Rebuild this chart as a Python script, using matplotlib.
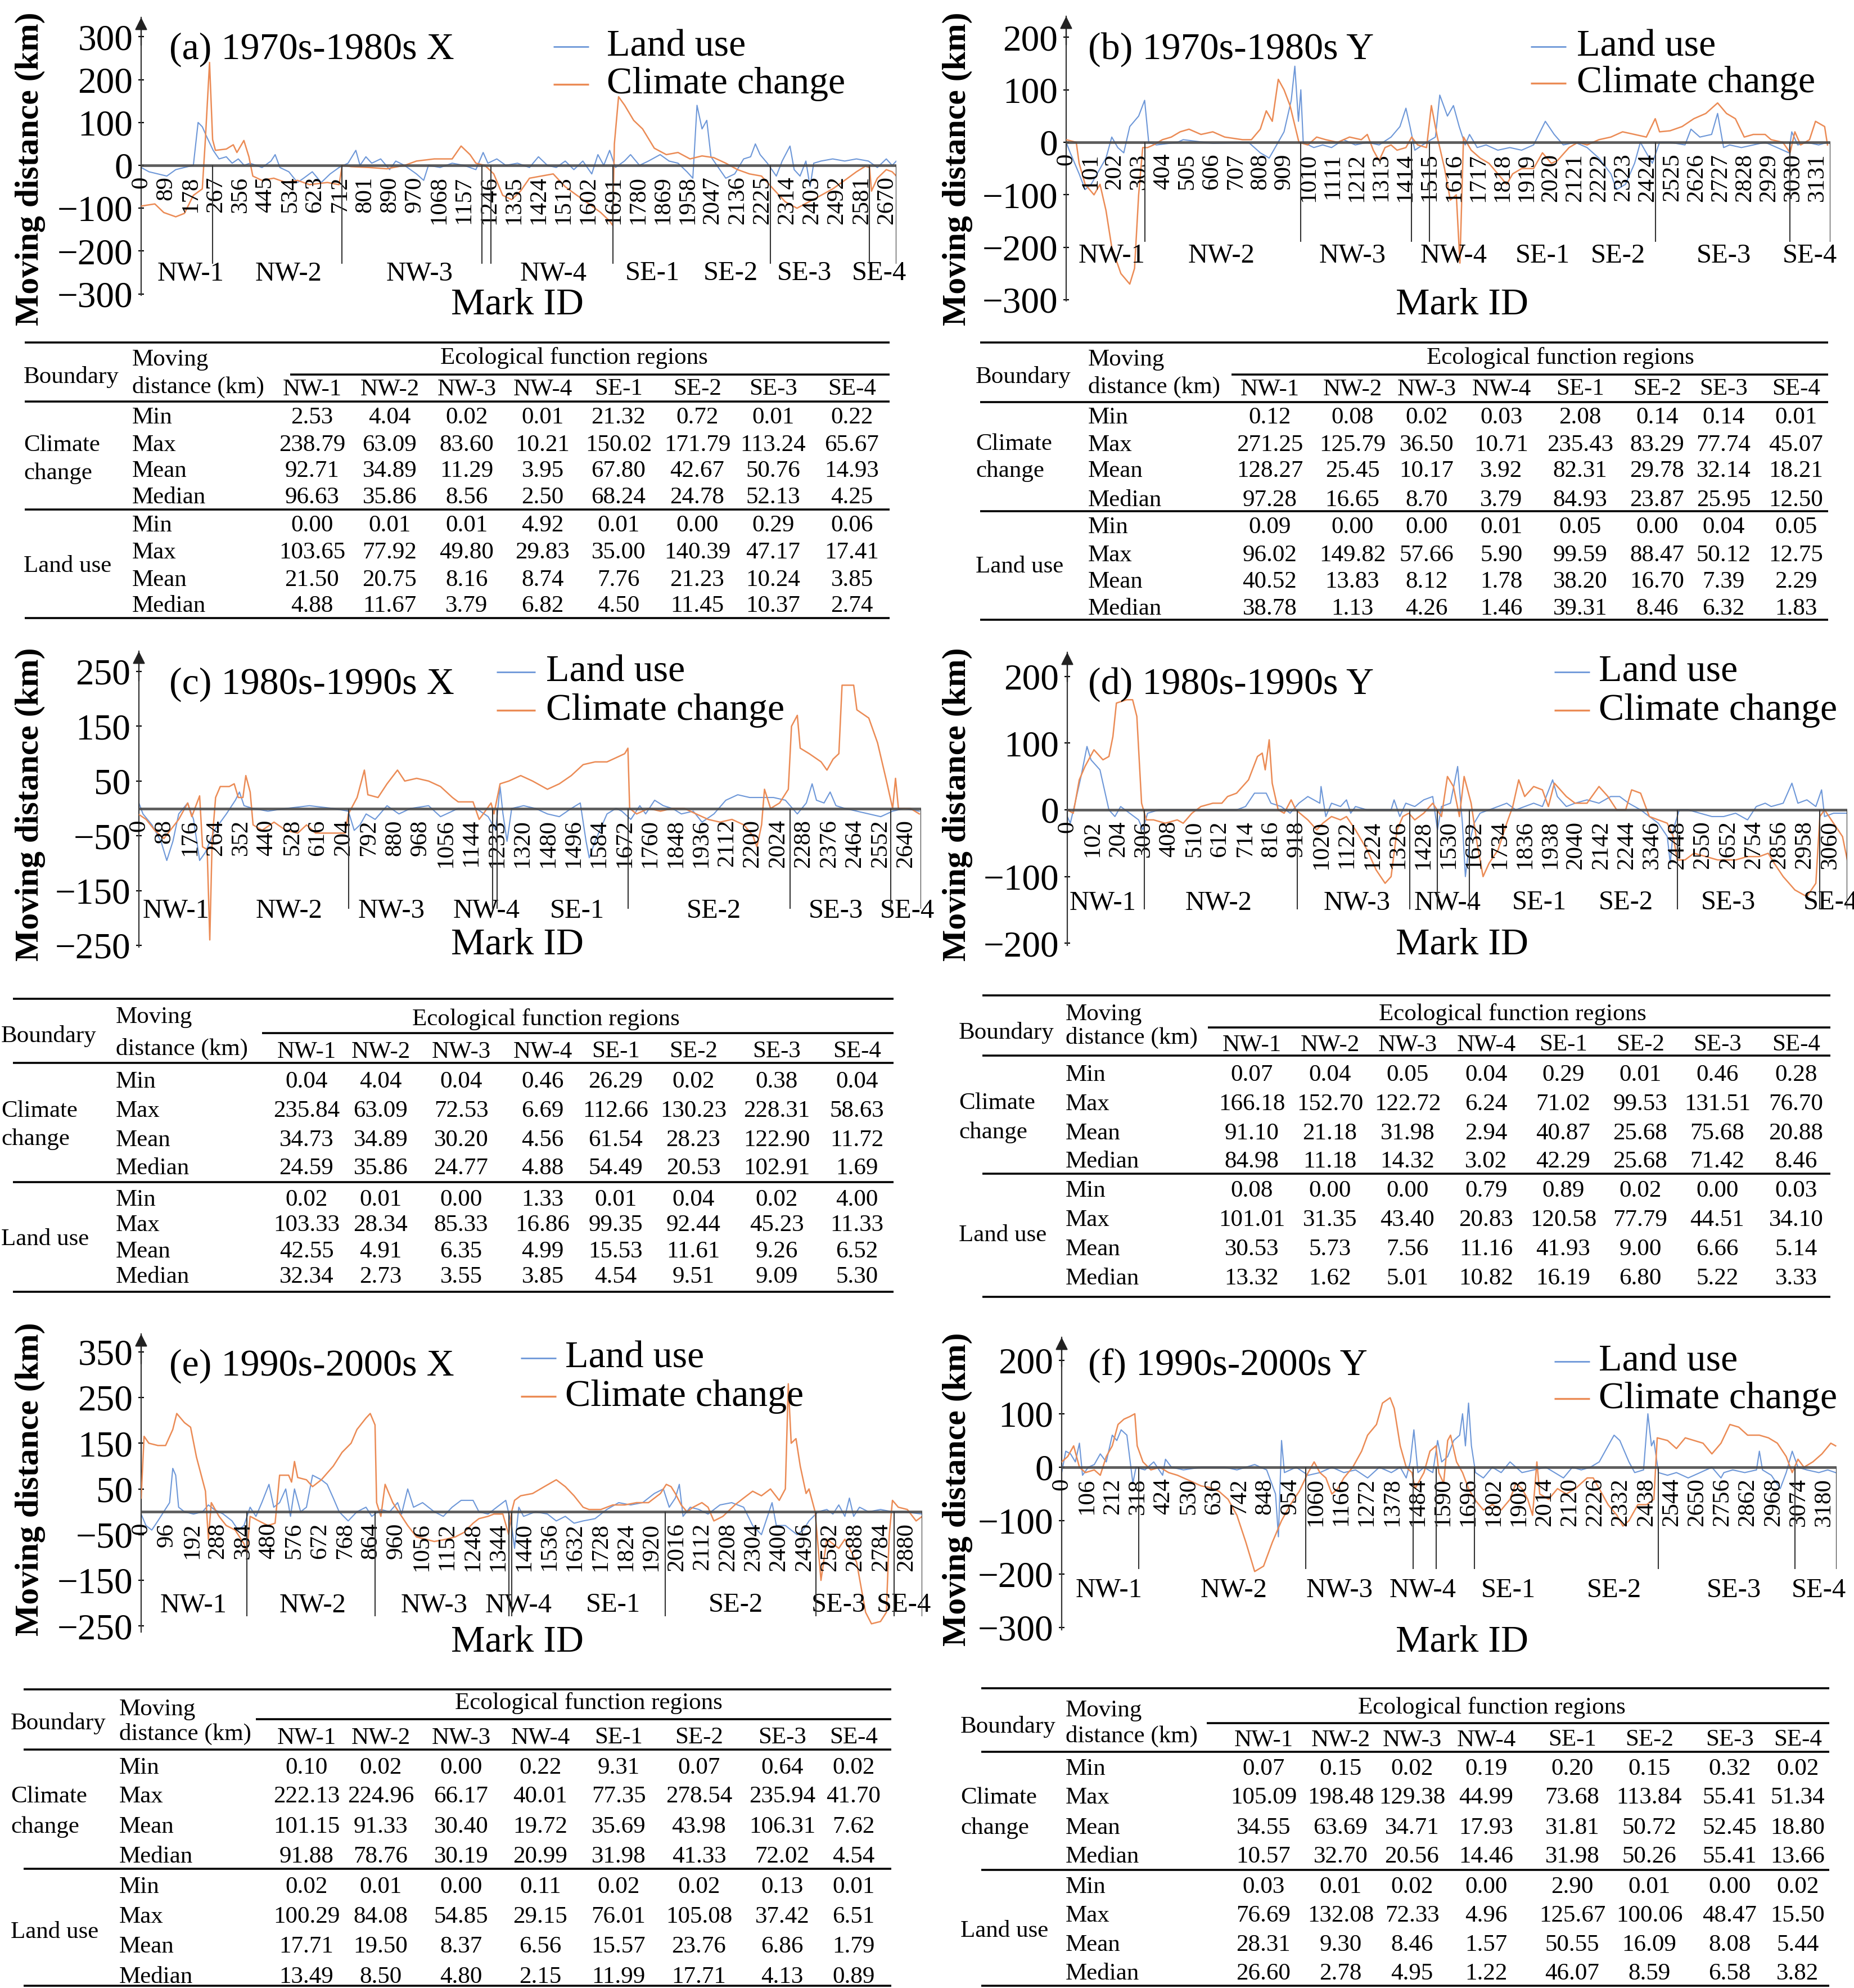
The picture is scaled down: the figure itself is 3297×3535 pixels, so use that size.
import numpy as np
import matplotlib
matplotlib.use('Agg')
import matplotlib.pyplot as plt
from matplotlib.lines import Line2D
from matplotlib.transforms import offset_copy

# ── DATA ──────────────────────────────────────────────────────────────────────
REGIONS = ['NW-1', 'NW-2', 'NW-3', 'NW-4', 'SE-1', 'SE-2', 'SE-3', 'SE-4']
STATS = ['Min', 'Max', 'Mean', 'Median']

# (a) 1970s-1980s X
A_TICKS = ['0', '89', '178', '267', '356', '445', '534', '623', '712', '801', '890', '970', '1068',
           '1157', '1246', '1335', '1424', '1513', '1602', '1691', '1780', '1869', '1958', '2047',
           '2136', '2225', '2314', '2403', '2492', '2581', '2670']
A_CLIM_X = [0, 49, 81, 124, 155, 187, 219, 230, 245, 256, 266, 305, 330, 343, 368, 386, 400, 432, 475, 518,
            560, 603, 667, 709, 720, 752, 816, 880, 944, 986, 1050, 1114, 1146, 1178, 1199, 1231, 1263, 1295,
            1327, 1359, 1391, 1433, 1476, 1519, 1561, 1604, 1646, 1678, 1689, 1695, 1710, 1732, 1764, 1796,
            1838, 1881, 1923, 1966, 2009, 2051, 2094, 2136, 2179, 2222, 2264, 2307, 2349, 2392, 2435, 2477,
            2520, 2562, 2594, 2609, 2616, 2637, 2669, 2690, 2705]
A_CLIM_Y = [-95, -90, -110, -120, -112, -70, -55, 60, 240, 60, 35, 38, 48, 30, 58, 20, -25, -35, -30, -40,
            -35, -45, -40, -45, 0, -3, -5, -8, 0, 10, 15, 15, 45, 25, 5, 0, -20, -70, -80, -60,
            -30, -25, -20, -50, -70, -90, -110, -130, -140, 50, 160, 140, 105, 85, 40, 25, 30, 15, 22, 18,
            5, -10, -20, -25, -55, -85, -100, -85, -70, -55, -35, -15, -2, -5, -60, -30, -10, -15, -25]
A_LAND_X = [0, 28, 60, 92, 124, 155, 187, 204, 219, 236, 258, 279, 305, 326, 348, 369, 390, 433, 465, 480,
            497, 529, 560, 582, 613, 645, 677, 709, 741, 769, 784, 805, 826, 858, 890, 912, 943, 986, 1012,
            1029, 1071, 1114, 1156, 1199, 1225, 1242, 1274, 1306, 1348, 1391, 1423, 1455, 1487, 1519, 1550,
            1582, 1614, 1636, 1657, 1678, 1699, 1731, 1753, 1785, 1817, 1859, 1891, 1923, 1955, 1976, 1991,
            2009, 2026, 2041, 2062, 2094, 2126, 2158, 2183, 2200, 2217, 2243, 2275, 2296, 2324, 2339, 2360,
            2381, 2396, 2409, 2435, 2477, 2520, 2562, 2605, 2637, 2669, 2690, 2705]
A_LAND_Y = [-5, -15, -20, -25, -10, -5, 0, 100, 90, 65, 35, 15, 20, 5, 15, 0, 5, -5, 10, 25,
            -5, -15, -40, -30, -15, -40, -20, -5, 5, 35, 0, 20, 5, 15, -10, 10, 0, -20, -35, 0,
            -5, 5, 0, -10, 30, 5, 15, 0, 5, -5, 20, 0, -5, 10, -10, 10, -20, 25, 0, 35,
            -5, 10, 25, 0, 10, 25, 10, 5, -15, -30, 140, 85, 105, 20, 0, -30, -20, 15, 20, 50,
            25, 5, -25, 10, 45, -10, -25, 10, -50, 5, 10, 15, 10, 15, 10, -5, 15, 0, 10]
A_BOUNDS = [256, 720, 1220, 1252, 1689, 2253, 2609, 2705]
A_REG_X = [177, 528, 997, 1476, 1832, 2111, 2375, 2643]
A_TAB_CLIM = [[2.53, 4.04, 0.02, 0.01, 21.32, 0.72, 0.01, 0.22],
              [238.79, 63.09, 83.60, 10.21, 150.02, 171.79, 113.24, 65.67],
              [92.71, 34.89, 11.29, 3.95, 67.80, 42.67, 50.76, 14.93],
              [96.63, 35.86, 8.56, 2.50, 68.24, 24.78, 52.13, 4.25]]
A_TAB_LAND = [[0.00, 0.01, 0.01, 4.92, 0.01, 0.00, 0.29, 0.06],
              [103.65, 77.92, 49.80, 29.83, 35.00, 140.39, 47.17, 17.41],
              [21.50, 20.75, 8.16, 8.74, 7.76, 21.23, 10.24, 3.85],
              [4.88, 11.67, 3.79, 6.82, 4.50, 11.45, 10.37, 2.74]]

# (b) 1970s-1980s Y
B_TICKS = ['0', '101', '202', '303', '404', '505', '606', '707', '808', '909', '1010', '1111', '1212',
           '1313', '1414', '1515', '1616', '1717', '1818', '1919', '2020', '2121', '2222', '2323', '2424',
           '2525', '2626', '2727', '2828', '2929', '3030', '3131']
B_CLIM_X = [0, 42, 54, 79, 116, 141, 166, 190, 228, 265, 285, 302, 319, 339, 364, 401, 438, 475, 512, 562,
            611, 661, 735, 772, 809, 834, 859, 884, 908, 933, 970, 1007, 1044, 1082, 1131, 1181, 1230, 1255,
            1280, 1304, 1329, 1354, 1379, 1416, 1440, 1465, 1502, 1522, 1547, 1577, 1601, 1626, 1641, 1656,
            1688, 1725, 1762, 1799, 1836, 1861, 1898, 1948, 1985, 2022, 2047, 2096, 2133, 2171, 2220, 2270,
            2319, 2369, 2418, 2455, 2473, 2517, 2567, 2616, 2666, 2715, 2752, 2789, 2826, 2864, 2913, 2938,
            2987, 3017, 3037, 3061, 3098, 3123, 3161, 3173]
B_CLIM_Y = [5, 0, -40, -80, -100, -80, -130, -200, -250, -270, -240, -100, -10, -10, -5, 5, 10, 20, 25, 15,
            20, 10, 5, 5, 25, 60, 40, 120, 100, 70, 0, -5, 10, 5, 0, 10, 5, 15, -15, -35,
            -10, -5, -15, -10, 10, -5, -10, 70, 10, -50, -110, -100, -230, 10, -15, -30, -40, -60, -80, -60,
            -50, -50, -20, -40, -35, -10, 0, -5, 5, 10, 20, 15, 10, 45, 20, 22, 30, 45, 55, 75,
            55, 45, 10, 15, 15, 5, 0, -20, 20, -5, 5, 40, 30, -5]
B_LAND_X = [0, 17, 54, 79, 104, 129, 166, 190, 215, 240, 265, 302, 327, 344, 376, 463, 488, 611, 760, 809,
            846, 871, 908, 938, 953, 968, 978, 988, 1032, 1069, 1106, 1156, 1205, 1255, 1304, 1354, 1391,
            1416, 1433, 1453, 1502, 1539, 1557, 1589, 1614, 1638, 1663, 1681, 1713, 1750, 1799, 1849, 1898,
            1948, 1997, 2034, 2072, 2121, 2171, 2220, 2270, 2294, 2331, 2369, 2393, 2418, 2443, 2473, 2517,
            2579, 2604, 2641, 2690, 2715, 2740, 2765, 2814, 2864, 2913, 2963, 3012, 3024, 3049, 3086, 3136,
            3173]
B_LAND_Y = [0, -20, -60, -90, -80, -60, -30, 10, -10, -20, 30, 50, 80, 0, -5, 0, 5, -2, 0, -20,
            -30, -10, 20, 80, 145, 40, 100, 0, -10, -5, -10, 5, -5, 0, -5, 10, 30, 65, 30, -15,
            0, 10, 90, 50, 70, 30, -5, 15, -10, -5, -15, -10, -15, -5, 40, 15, -5, 0, -10, -30,
            -60, -90, -80, -40, 0, -20, -40, 0, 0, -5, 25, 10, 15, 55, -10, -5, -10, -5, 0, -10,
            -20, 20, -5, 0, -5, 0]
B_BOUNDS = [327, 978, 1440, 1515, 2455, 3017, 3185]
B_REG_X = [190, 648, 1193, 1614, 1985, 2299, 2740, 3099]
B_TAB_CLIM = [[0.12, 0.08, 0.02, 0.03, 2.08, 0.14, 0.14, 0.01],
              [271.25, 125.79, 36.50, 10.71, 235.43, 83.29, 77.74, 45.07],
              [128.27, 25.45, 10.17, 3.92, 82.31, 29.78, 32.14, 18.21],
              [97.28, 16.65, 8.70, 3.79, 84.93, 23.87, 25.95, 12.50]]
B_TAB_LAND = [[0.09, 0.00, 0.00, 0.01, 0.05, 0.00, 0.04, 0.05],
              [96.02, 149.82, 57.66, 5.90, 99.59, 88.47, 50.12, 12.75],
              [40.52, 13.83, 8.12, 1.78, 38.20, 16.70, 7.39, 2.29],
              [38.78, 1.13, 4.26, 1.46, 39.31, 8.46, 6.32, 1.83]]

# (c) 1980s-1990s X
C_TICKS = ['0', '88', '176', '264', '352', '440', '528', '616', '204', '792', '880', '968', '1056', '1144',
           '1233', '1320', '1480', '1496', '1584', '1672', '1760', '1848', '1936', '2112', '2200', '2024',
           '2288', '2376', '2464', '2552', '2640']
C_CLIM_X = [0, 25, 55, 86, 137, 168, 182, 209, 219, 235, 244, 252, 264, 280, 311, 328, 342, 358, 368, 383,
            393, 424, 465, 506, 547, 577, 608, 669, 710, 721, 751, 776, 788, 823, 854, 890, 915, 956, 997,
            1038, 1079, 1099, 1150, 1171, 1185, 1212, 1222, 1243, 1273, 1314, 1355, 1406, 1447, 1488, 1529,
            1570, 1611, 1652, 1672, 1683, 1689, 1713, 1754, 1795, 1836, 1877, 1918, 1959, 2000, 2041, 2082,
            2113, 2127, 2143, 2153, 2174, 2205, 2235, 2246, 2266, 2276, 2307, 2348, 2368, 2389, 2409, 2420,
            2460, 2471, 2512, 2542, 2573, 2594, 2604, 2614, 2655, 2686]
C_CLIM_Y = [-11, -20, -40, -55, -20, 10, -15, 23, -70, -75, -240, -60, 20, 40, 40, 45, 20, 20, 60, 30,
            -30, -40, -25, -40, -45, -30, -45, -45, -45, -10, 20, 70, 25, 20, 45, 70, 50, 55, 50, 40,
            20, 12, 12, -20, -10, 10, -10, 45, 50, 60, 50, 35, 45, 60, 80, 85, 85, 95, 100, 110,
            0, -10, 0, -5, 0, 0, -10, -20, -25, -20, -30, -50, -70, -30, 35, 0, 10, 35, 150, 170,
            110, 100, 85, 70, 90, 100, 225, 225, 180, 165, 120, 50, 0, 55, 0, 0, -10]
C_LAND_X = [0, 14, 45, 76, 96, 117, 137, 168, 188, 209, 229, 260, 301, 332, 346, 362, 393, 444, 506, 587,
            669, 721, 741, 761, 782, 813, 854, 895, 935, 997, 1038, 1099, 1161, 1202, 1228, 1243, 1253, 1267,
            1283, 1324, 1365, 1406, 1447, 1488, 1519, 1539, 1550, 1570, 1611, 1642, 1662, 1693, 1724, 1744,
            1775, 1805, 1836, 1867, 1908, 1938, 1979, 2020, 2061, 2102, 2143, 2184, 2225, 2266, 2297, 2317,
            2332, 2358, 2379, 2399, 2430, 2471, 2512, 2553, 2594, 2634, 2686]
C_LAND_Y = [10, -10, -30, -60, -95, -60, -10, 10, -20, -95, -80, -40, -10, 15, 30, 5, 0, -5, 0, 5,
            0, -5, -40, -30, -10, -20, 5, -10, 0, 5, -15, 0, 0, -15, -40, 40, -10, -60, 0, 5,
            0, -10, -15, 0, 10, -60, -90, -60, -10, 0, -5, -20, 5, -10, 15, 5, 0, -10, -5, -25,
            -10, 15, 25, 20, 20, 20, 15, -10, 10, 45, 15, 10, 30, 5, 0, -5, -10, -15, -5, 0, -5]
C_BOUNDS = [721, 1218, 1232, 1683, 2241, 2587, 2692]
C_REG_X = [127, 516, 870, 1197, 1509, 1979, 2399, 2645]
C_TAB_CLIM = [[0.04, 4.04, 0.04, 0.46, 26.29, 0.02, 0.38, 0.04],
              [235.84, 63.09, 72.53, 6.69, 112.66, 130.23, 228.31, 58.63],
              [34.73, 34.89, 30.20, 4.56, 61.54, 28.23, 122.90, 11.72],
              [24.59, 35.86, 24.77, 4.88, 54.49, 20.53, 102.91, 1.69]]
C_TAB_LAND = [[0.02, 0.01, 0.00, 1.33, 0.01, 0.04, 0.02, 4.00],
              [103.33, 28.34, 85.33, 16.86, 99.35, 92.44, 45.23, 11.33],
              [42.55, 4.91, 6.35, 4.99, 15.53, 11.61, 9.26, 6.52],
              [32.34, 2.73, 3.55, 3.85, 4.54, 9.51, 9.09, 5.30]]

# (d) 1980s-1990s Y
D_TICKS = ['0', '102', '204', '306', '408', '510', '612', '714', '816', '918', '1020', '1122', '1224',
           '1326', '1428', '1530', '1632', '1734', '1836', '1938', '2040', '2142', '2244', '3346', '2448',
           '2550', '2652', '2754', '2856', '2958', '3060']
D_CLIM_X = [0, 24, 48, 71, 107, 143, 167, 183, 197, 238, 262, 279, 298, 317, 346, 393, 441, 465, 500, 536,
            584, 620, 643, 679, 727, 763, 782, 794, 810, 822, 846, 870, 898, 917, 965, 1001, 1025, 1060,
            1096, 1120, 1156, 1203, 1239, 1275, 1299, 1323, 1346, 1370, 1394, 1430, 1466, 1501, 1525, 1549,
            1573, 1592, 1620, 1644, 1668, 1692, 1728, 1763, 1787, 1811, 1835, 1871, 1906, 1930, 1954, 2002,
            2037, 2085, 2133, 2169, 2204, 2240, 2264, 2300, 2335, 2371, 2407, 2431, 2447, 2478, 2514, 2562,
            2609, 2681, 2729, 2776, 2812, 2836, 2872, 2919, 2967, 3003, 3019, 3038, 3074, 3110, 3129]
D_CLIM_Y = [0, -5, 45, 65, 90, 75, 80, 110, 160, 165, 165, 140, 10, -15, -15, -20, -15, -20, -5, 5,
            10, 10, 20, 25, 45, 80, 85, 60, 105, 40, 0, -5, 15, 0, -15, -30, -20, -10, -15, -10,
            -30, -60, -90, -110, -100, -30, -10, -5, -15, -5, 10, -10, 50, 35, -10, 50, 10, -50, -100, -80,
            -60, -20, 5, 45, 20, 35, 30, 5, 40, 20, 10, 10, 35, 20, 0, 0, 30, 25, -10, -15,
            -20, -40, -75, -75, -65, -70, -75, -75, -70, -70, -65, -80, -100, -120, -130, -110, -10, 0, -20,
            -40, -75]
D_LAND_X = [0, 12, 31, 55, 79, 95, 131, 155, 167, 191, 214, 250, 286, 303, 322, 369, 512, 679, 715, 751,
            798, 817, 858, 894, 929, 965, 1013, 1018, 1037, 1060, 1096, 1120, 1137, 1156, 1203, 1299, 1311,
            1334, 1358, 1394, 1430, 1466, 1485, 1501, 1537, 1566, 1585, 1597, 1613, 1632, 1656, 1692, 1728,
            1763, 1799, 1835, 1871, 1906, 1947, 1966, 2002, 2037, 2085, 2133, 2180, 2216, 2252, 2300, 2335,
            2371, 2407, 2419, 2431, 2455, 2490, 2538, 2586, 2633, 2681, 2729, 2764, 2800, 2824, 2872, 2907,
            2931, 2967, 3003, 3026, 3038, 3074, 3129]
D_LAND_Y = [-10, -20, 10, 50, 95, 75, 60, 20, 0, -10, 5, -5, -15, -30, -5, 0, 0, 0, 5, 25,
            25, 10, 5, -5, 10, 20, 10, 35, -10, 10, 5, 15, -5, 5, 0, 0, 15, -10, 10, 5,
            15, 20, -30, 5, 10, 65, -20, -100, -50, -20, -5, 0, 5, 10, 0, 5, 10, 5, 45, 20,
            5, 10, 15, 10, 20, 20, 10, 0, -10, -20, -40, -80, -30, 0, 0, -5, -10, -10, -5, -15,
            5, 10, 5, 10, 40, 10, 15, 5, 30, -10, -5, -5]
D_BOUNDS = [310, 922, 1375, 1485, 1613, 2447, 3019, 3129]
D_REG_X = [143, 608, 1161, 1525, 1894, 2240, 2652, 3062]
D_TAB_CLIM = [[0.07, 0.04, 0.05, 0.04, 0.29, 0.01, 0.46, 0.28],
              [166.18, 152.70, 122.72, 6.24, 71.02, 99.53, 131.51, 76.70],
              [91.10, 21.18, 31.98, 2.94, 40.87, 25.68, 75.68, 20.88],
              [84.98, 11.18, 14.32, 3.02, 42.29, 25.68, 71.42, 8.46]]
D_TAB_LAND = [[0.08, 0.00, 0.00, 0.79, 0.89, 0.02, 0.00, 0.03],
              [101.01, 31.35, 43.40, 20.83, 120.58, 77.79, 44.51, 34.10],
              [30.53, 5.73, 7.56, 11.16, 41.93, 9.00, 6.66, 5.14],
              [13.32, 1.62, 5.01, 10.82, 16.19, 6.80, 5.22, 3.33]]

# (e) 1990s-2000s X
E_TICKS = ['0', '96', '192', '288', '384', '480', '576', '672', '768', '864', '960', '1056', '1152',
           '1248', '1344', '1440', '1536', '1632', '1728', '1824', '1920', '2016', '2112', '2208', '2304',
           '2400', '2496', '2582', '2688', '2784', '2880']
E_CLIM_X = [0, 11, 29, 63, 92, 119, 134, 163, 186, 208, 242, 253, 264, 293, 320, 354, 387, 398, 410, 443,
            477, 504, 521, 555, 566, 577, 589, 622, 645, 678, 723, 756, 790, 812, 846, 862, 880, 886, 902,
            918, 947, 969, 1003, 1036, 1070, 1103, 1148, 1182, 1215, 1249, 1271, 1305, 1327, 1361, 1383,
            1394, 1405, 1428, 1473, 1517, 1562, 1596, 1629, 1663, 1685, 1730, 1775, 1820, 1864, 1909, 1954,
            1976, 1994, 2010, 2032, 2054, 2077, 2110, 2133, 2155, 2189, 2234, 2267, 2301, 2334, 2368, 2401,
            2424, 2435, 2446, 2464, 2480, 2502, 2513, 2536, 2558, 2580, 2603, 2625, 2648, 2692, 2726, 2748,
            2782, 2804, 2815, 2827, 2849, 2883, 2916, 2939]
E_CLIM_Y = [30, 165, 150, 145, 145, 180, 215, 195, 185, 120, 45, -60, 20, -10, -30, -40, -70, -90, -10, -20,
            -30, -25, 80, 80, 65, 110, 75, 70, 55, 70, 100, 130, 150, 180, 205, 215, 190, 20, -10, 60,
            20, 0, -30, -55, -60, -65, -60, -55, -45, -25, -15, -10, -5, -5, -50, 0, 25, 35, 40, 55,
            70, 55, 35, 10, 5, 5, 15, 15, 20, 20, 40, 60, 55, 40, 15, 0, 10, 20, 10, -20,
            -10, 15, 30, 45, 35, 50, 25, 50, 280, 150, 160, 100, 40, 50, 0, -150, -60, -70, -80, -60,
            -110, -220, -245, -240, -220, -50, 25, 10, 5, -20, -10]
E_LAND_X = [0, 18, 40, 63, 85, 107, 119, 130, 141, 163, 197, 231, 253, 275, 309, 342, 365, 387, 410, 432,
            454, 481, 499, 521, 544, 562, 577, 600, 622, 645, 678, 700, 723, 745, 779, 812, 846, 868, 902,
            935, 965, 980, 1003, 1025, 1059, 1103, 1137, 1170, 1204, 1249, 1271, 1305, 1338, 1372, 1394,
            1405, 1421, 1439, 1484, 1529, 1562, 1596, 1629, 1663, 1708, 1752, 1797, 1842, 1887, 1931, 1965,
            1987, 2010, 2025, 2039, 2066, 2099, 2133, 2178, 2222, 2267, 2301, 2334, 2374, 2390, 2424, 2468,
            2491, 2513, 2547, 2580, 2603, 2625, 2648, 2665, 2681, 2703, 2737, 2782, 2827, 2871, 2939]
E_LAND_Y = [-5, -30, -40, -20, 0, 20, 95, 80, 10, 0, -5, 0, 15, 5, -5, -20, -40, -30, 10, -10,
            20, 60, 10, 20, 50, -10, 50, 0, 10, 80, 70, 60, 30, 0, -20, 0, 10, -10, 5, 0,
            20, -5, 50, 10, 20, 0, -10, 10, 25, 25, 0, -5, 10, 25, -30, -80, 10, -10, 0, -5,
            -20, -10, -25, -20, -15, 5, 20, 15, 20, 40, 50, 10, 30, 60, -10, 10, 5, -5, 15, 20,
            10, -30, -50, 20, -30, -30, -50, -40, -20, 0, 5, -5, 15, -10, 30, -10, 10, 0, 5, 0, 0, -5]
E_BOUNDS = [398, 880, 1383, 1394, 1972, 2540, 2833, 2939]
E_REG_X = [197, 645, 1103, 1421, 1775, 2238, 2625, 2871]
E_TAB_CLIM = [[0.10, 0.02, 0.00, 0.22, 9.31, 0.07, 0.64, 0.02],
              [222.13, 224.96, 66.17, 40.01, 77.35, 278.54, 235.94, 41.70],
              [101.15, 91.33, 30.40, 19.72, 35.69, 43.98, 106.31, 7.62],
              [91.88, 78.76, 30.19, 20.99, 31.98, 41.33, 72.02, 4.54]]
E_TAB_LAND = [[0.02, 0.01, 0.00, 0.11, 0.02, 0.02, 0.13, 0.01],
              [100.29, 84.08, 54.85, 29.15, 76.01, 105.08, 37.42, 6.51],
              [17.71, 19.50, 8.37, 6.56, 15.57, 23.76, 6.86, 1.79],
              [13.49, 8.50, 4.80, 2.15, 11.99, 17.71, 4.13, 0.89]]

# (f) 1990s-2000s Y
F_TICKS = ['0', '106', '212', '318', '424', '530', '636', '742', '848', '954', '1060', '1166', '1272',
           '1378', '1484', '1590', '1696', '1802', '1908', '2014', '2120', '2226', '2332', '2438', '2544',
           '2650', '2756', '2862', '2968', '3074', '3180']
F_CLIM_X = [0, 25, 50, 74, 99, 136, 161, 186, 211, 235, 260, 285, 305, 315, 339, 372, 409, 446, 483, 533,
            582, 619, 656, 694, 731, 768, 805, 842, 879, 917, 954, 991, 1028, 1053, 1077, 1102, 1127, 1152,
            1177, 1214, 1251, 1276, 1313, 1338, 1370, 1387, 1412, 1437, 1461, 1474, 1511, 1536, 1561, 1573,
            1593, 1610, 1622, 1647, 1672, 1697, 1722, 1759, 1796, 1833, 1870, 1895, 1920, 1944, 1964, 1982,
            1994, 2031, 2068, 2105, 2143, 2167, 2192, 2217, 2242, 2279, 2316, 2341, 2366, 2403, 2440, 2470,
            2484, 2527, 2564, 2601, 2638, 2675, 2712, 2750, 2787, 2824, 2861, 2910, 2948, 2985, 3022, 3047,
            3071, 3096, 3133, 3171, 3208, 3228]
F_CLIM_Y = [10, 20, 40, 0, -10, -5, -15, 20, 40, 80, 90, 95, 100, 40, 10, -5, 0, -10, -15, -25,
            -35, -38, -45, -60, -90, -140, -195, -185, -140, -100, -70, -45, -10, 10, -10, -20, -50, -40,
            -20, 0, 30, 60, 80, 120, 130, 110, 40, 0, -10, -40, -10, 30, 40, -10, -30, 50, 60, 10, -10,
            -40, -60, -80, -70, -80, -60, -30, -40, -60, -90, 10, -50, -60, -40, -50, -40, -30, -20, -20,
            -40, -70, -90, -110, -100, -70, -70, -60, 55, 50, 35, 55, 50, 45, 25, 45, 80, 75, 60, 60, 55,
            45, 20, -10, 15, 0, 10, 25, 45, 40]
F_LAND_X = [0, 17, 37, 57, 74, 87, 111, 136, 161, 186, 211, 230, 248, 272, 297, 310, 347, 384, 421, 433,
            458, 508, 582, 681, 731, 805, 855, 892, 904, 917, 929, 978, 1028, 1077, 1127, 1177, 1226, 1276,
            1325, 1375, 1412, 1437, 1454, 1469, 1486, 1511, 1548, 1568, 1585, 1610, 1635, 1660, 1672, 1684,
            1697, 1709, 1726, 1759, 1796, 1833, 1870, 1920, 1969, 2019, 2056, 2093, 2130, 2167, 2205, 2242,
            2279, 2304, 2328, 2366, 2390, 2427, 2445, 2460, 2470, 2489, 2527, 2564, 2613, 2663, 2712, 2750,
            2762, 2799, 2849, 2898, 2910, 2923, 2960, 2997, 3022, 3047, 3071, 3108, 3158, 3195, 3228]
F_LAND_Y = [-10, 30, 25, 10, 45, -15, 0, 5, 25, 10, 60, 50, 70, 60, -30, 0, -5, 10, -15, 15,
            0, -5, 0, 0, -5, 5, -5, -50, -130, 50, -10, 0, -15, -10, 0, -10, -5, -20, 0, -10,
            0, -20, 10, 70, -10, 0, -10, 50, 10, 20, 50, 60, 100, 40, 120, 40, -10, -20, 0, -10,
            10, -10, -5, 0, -10, -20, 0, -5, 0, 10, 40, 60, 50, 10, -10, -5, 100, 40, 50, -10,
            -15, -10, -20, -10, 0, -20, -10, -5, -10, -5, 30, -5, -15, -40, -10, 30, 0, -5, -10, -5, -10]
F_BOUNDS = [322, 1018, 1466, 1563, 1722, 2489, 3059, 3232]
F_REG_X = [198, 718, 1159, 1506, 1863, 2304, 2804, 3158]
F_TAB_CLIM = [[0.07, 0.15, 0.02, 0.19, 0.20, 0.15, 0.32, 0.02],
              [105.09, 198.48, 129.38, 44.99, 73.68, 113.84, 55.41, 51.34],
              [34.55, 63.69, 34.71, 17.93, 31.81, 50.72, 52.45, 18.80],
              [10.57, 32.70, 20.56, 14.46, 31.98, 50.26, 55.41, 13.66]]
F_TAB_LAND = [[0.03, 0.01, 0.02, 0.00, 2.90, 0.01, 0.00, 0.02],
              [76.69, 132.08, 72.33, 4.96, 125.67, 100.06, 48.47, 15.50],
              [28.31, 9.30, 8.46, 1.57, 50.55, 16.09, 8.08, 5.44],
              [26.60, 2.78, 4.95, 1.22, 46.07, 8.59, 6.58, 3.82]]

# ── STYLE / LAYOUT (pixels, y measured from top) ─────────────────────────────
W, H = 3298, 3535
plt.rcParams['font.family'] = ['Liberation Serif', 'DejaVu Serif']
BLUE = '#6d97d8'
ORANGE = '#eb8b55'
BIG = 49      # titles, legend, Mark ID
YT = 47       # y tick labels
REG = 35      # region names under the axis
XT = 31       # rotated mark ids
TS = 31       # table text
YL = 43       # bold y label

PANELS = [
    dict(title='(a) 1970s-1980s X', ticks=A_TICKS, step=89, cx=A_CLIM_X, cy=A_CLIM_Y, lx=A_LAND_X, ly=A_LAND_Y,
         bounds=A_BOUNDS, bound_lo=-230, regx=A_REG_X, regy=-252,
         rect=(251, 31, 1594, 525), ylim=(-303, 345), xend=2705, yticks=[300, 200, 100, 0, -100, -200, -300],
         title_xy=(301, 88), leg=(984, 1047, 1079, 83, 150), ylab=(54, 300), markid=(920, 542)),
    dict(title='(b) 1970s-1980s Y', ticks=B_TICKS, step=101, cx=B_CLIM_X, cy=B_CLIM_Y, lx=B_LAND_X, ly=B_LAND_Y,
         bounds=B_BOUNDS, bound_lo=-189, regx=B_REG_X, regy=-216,
         rect=(1896, 29, 3255, 535), ylim=(-302, 240), xend=3185, yticks=[200, 100, 0, -100, -200, -300],
         title_xy=(1935, 88), leg=(2722, 2785, 2804, 83, 148), ylab=(1703, 300), markid=(2600, 542)),
    dict(title='(c) 1980s-1990s X', ticks=C_TICKS, step=88, cx=C_CLIM_X, cy=C_CLIM_Y, lx=C_LAND_X, ly=C_LAND_Y,
         bounds=C_BOUNDS, bound_lo=-183, regx=C_REG_X, regy=-187,
         rect=(247, 1158, 1638, 1684), ylim=(-253, 287), xend=2692, yticks=[250, 150, 50, -50, -150, -250],
         title_xy=(301, 1217), leg=(883, 952, 971, 1195, 1263), ylab=(54, 1430), markid=(920, 1680)),
    dict(title='(d) 1980s-1990s Y', ticks=D_TICKS, step=102, cx=D_CLIM_X, cy=D_CLIM_Y, lx=D_LAND_X, ly=D_LAND_Y,
         bounds=D_BOUNDS, bound_lo=-149, regx=D_REG_X, regy=-139,
         rect=(1898, 1160, 3285, 1681), ylim=(-203, 236), xend=3129, yticks=[200, 100, 0, -100, -200],
         title_xy=(1935, 1217), leg=(2764, 2827, 2843, 1195, 1263), ylab=(1703, 1430), markid=(2600, 1680)),
    dict(title='(e) 1990s-2000s X', ticks=E_TICKS, step=96, cx=E_CLIM_X, cy=E_CLIM_Y, lx=E_LAND_X, ly=E_LAND_Y,
         bounds=E_BOUNDS, bound_lo=-228, regx=E_REG_X, regy=-204,
         rect=(251, 2372, 1640, 2902), ylim=(-263, 389), xend=2939,
         yticks=[350, 250, 150, 50, -50, -150, -250],
         title_xy=(301, 2429), leg=(926, 989, 1005, 2415, 2483), ylab=(54, 2630), markid=(920, 2920)),
    dict(title='(f) 1990s-2000s Y', ticks=F_TICKS, step=106, cx=F_CLIM_X, cy=F_CLIM_Y, lx=F_LAND_X, ly=F_LAND_Y,
         bounds=F_BOUNDS, bound_lo=-190, regx=F_REG_X, regy=-230,
         rect=(1888, 2378, 3266, 2898), ylim=(-304, 243), xend=3232, yticks=[200, 100, 0, -100, -200, -300],
         title_xy=(1935, 2429), leg=(2764, 2827, 2843, 2421, 2487), ylab=(1703, 2648), markid=(2600, 2920)),
]

TABLES = [
    dict(clim=A_TAB_CLIM, land=A_TAB_LAND, x0=44, x1=1582, lines=[609, 714, 906, 1099], eco=(516, 666),
         bx=42, by=670, mx=235, my=(640, 688), ec=(1021, 637),
         cols=[555, 693, 830, 965, 1100, 1240, 1375, 1515], hy=692,
         rows=[743, 792, 838, 885, 935, 983, 1032, 1078], grp=(792, 842, 1007)),
    dict(clim=B_TAB_CLIM, land=B_TAB_LAND, x0=1743, x1=3251, lines=[609, 715, 909, 1102], eco=(2190, 666),
         bx=1735, by=670, mx=1935, my=(640, 688), ec=(2775, 637),
         cols=[2258, 2405, 2537, 2670, 2810, 2947, 3065, 3194], hy=692,
         rows=[743, 792, 838, 890, 938, 988, 1035, 1083], grp=(790, 838, 1008)),
    dict(clim=C_TAB_CLIM, land=C_TAB_LAND, x0=23, x1=1589, lines=[1776, 1890, 2102, 2297], eco=(466, 1837),
         bx=2, by=1842, mx=206, my=(1809, 1865), ec=(971, 1813),
         cols=[545, 677, 820, 965, 1095, 1233, 1381, 1524], hy=1870,
         rows=[1924, 1976, 2028, 2078, 2134, 2179, 2226, 2271], grp=(1976, 2026, 2204)),
    dict(clim=D_TAB_CLIM, land=D_TAB_LAND, x0=1747, x1=3255, lines=[1770, 1877, 2087, 2306], eco=(2148, 1827),
         bx=1705, by=1836, mx=1895, my=(1804, 1845), ec=(2690, 1804),
         cols=[2226, 2365, 2503, 2643, 2780, 2917, 3054, 3194], hy=1858,
         rows=[1912, 1964, 2016, 2066, 2118, 2170, 2222, 2274], grp=(1962, 2014, 2197)),
    dict(clim=E_TAB_CLIM, land=E_TAB_LAND, x0=42, x1=1585, lines=[3004, 3111, 3323, 3531], eco=(455, 3057),
         bx=19, by=3065, mx=212, my=(3040, 3083), ec=(1047, 3028),
         cols=[545, 677, 820, 961, 1100, 1243, 1391, 1518], hy=3090,
         rows=[3144, 3195, 3249, 3302, 3356, 3409, 3462, 3516], grp=(3195, 3249, 3436)),
    dict(clim=F_TAB_CLIM, land=F_TAB_LAND, x0=1745, x1=3253, lines=[3002, 3115, 3325, 3531], eco=(2146, 3064),
         bx=1708, by=3071, mx=1895, my=(3042, 3087), ec=(2653, 3037),
         cols=[2247, 2384, 2511, 2643, 2796, 2933, 3076, 3197], hy=3094,
         rows=[3146, 3197, 3251, 3302, 3356, 3407, 3459, 3510], grp=(3197, 3251, 3434)),
]

fig = plt.figure(figsize=(W / 100, H / 100), dpi=100)


def ftext(x, y, s, **kw):
    kw.setdefault('va', 'center')
    kw.setdefault('ha', 'left')
    return fig.text(x / W, 1 - y / H, s, **kw)


def fline(x0, x1, y, lw=2.6, color='black'):
    fig.add_artist(Line2D([x0 / W, x1 / W], [1 - y / H, 1 - y / H], transform=fig.transFigure,
                          lw=lw, color=color, solid_capstyle='butt'))


def fmt(v):
    return f'{v:g}'.replace('-', '\u2212')


# ── CHART PANELS ─────────────────────────────────────────────────────────────
for p in PANELS:
    x0, yt, x1, yb = p['rect']
    ax = fig.add_axes([x0 / W, 1 - yb / H, (x1 - x0) / W, (yb - yt) / H])
    ax.set_xlim(0, p['xend'])
    ax.set_ylim(*p['ylim'])
    for s in ['top', 'right', 'bottom']:
        ax.spines[s].set_visible(False)
    ax.spines['left'].set_color('#333333')
    ax.spines['left'].set_linewidth(1.6)
    ax.patch.set_alpha(0)

    ax.plot(p['lx'], p['ly'], color=BLUE, lw=1.5, zorder=2)
    ax.plot(p['cx'], p['cy'], color=ORANGE, lw=1.8, zorder=3)
    ax.axhline(0, color='#4a4a4a', lw=3.4, zorder=4, alpha=0.9)
    ax.vlines(p['bounds'], p['bound_lo'], 0, color='#333333', lw=1.5, zorder=4)

    ax.set_xticks([])
    ax.set_yticks(p['yticks'])
    ax.set_yticklabels([fmt(v) for v in p['yticks']])
    ax.tick_params(axis='y', labelsize=YT, length=7, width=1.6, direction='inout', pad=7, colors='black')

    ax.annotate('', xy=(0, 1.0), xytext=(0, 0.9), xycoords='axes fraction',
                arrowprops=dict(arrowstyle='-|>', color='#222222', lw=1.6, mutation_scale=34,
                                shrinkA=0, shrinkB=0), annotation_clip=False)

    tr = offset_copy(ax.transData, fig=fig, y=-14, units='points')
    for i, lab in enumerate(p['ticks']):
        ax.text(i * p['step'], 0, lab, transform=tr, rotation=90, ha='center', va='top', fontsize=XT)

    for rx, rn in zip(p['regx'], REGIONS):
        ax.text(rx, p['regy'], rn, ha='center', va='center', fontsize=REG)

    tx, ty = p['title_xy']
    ftext(tx, ty, p['title'], fontsize=BIG)
    lx0, lx1, ltx, ly1, ly2 = p['leg']
    fline(lx0, lx1, ly1, lw=2.0, color=BLUE)
    fline(lx0, lx1, ly2, lw=2.4, color=ORANGE)
    ftext(ltx, ly1, 'Land use', fontsize=BIG)
    ftext(ltx, ly2, 'Climate change', fontsize=BIG)
    ftext(p['ylab'][0], p['ylab'][1], 'Moving distance (km)', rotation=90, ha='center',
          fontsize=YL, fontweight='bold')
    ftext(p['markid'][0], p['markid'][1], 'Mark ID', ha='center', fontsize=BIG)

# ── TABLES ───────────────────────────────────────────────────────────────────
for t in TABLES:
    for y in t['lines']:
        fline(t['x0'], t['x1'], y)
    fline(t['eco'][0], t['x1'], t['eco'][1])
    ftext(t['bx'], t['by'], 'Boundary', fontsize=TS)
    ftext(t['mx'], t['my'][0], 'Moving', fontsize=TS)
    ftext(t['mx'], t['my'][1], 'distance (km)', fontsize=TS)
    ftext(t['ec'][0], t['ec'][1], 'Ecological function regions', ha='center', fontsize=TS)
    for cx, rn in zip(t['cols'], REGIONS):
        ftext(cx, t['hy'], rn, ha='center', fontsize=TS)
    for i, (ry, vals) in enumerate(zip(t['rows'], t['clim'] + t['land'])):
        ftext(t['mx'], ry, STATS[i % 4], fontsize=TS)
        for cx, v in zip(t['cols'], vals):
            ftext(cx, ry, f'{v:.2f}', ha='center', fontsize=TS)
    ftext(t['bx'], t['grp'][0], 'Climate', fontsize=TS)
    ftext(t['bx'], t['grp'][1], 'change', fontsize=TS)
    ftext(t['bx'], t['grp'][2], 'Land use', fontsize=TS)

fig.savefig('out.png', dpi=100)
plt.close(fig)
